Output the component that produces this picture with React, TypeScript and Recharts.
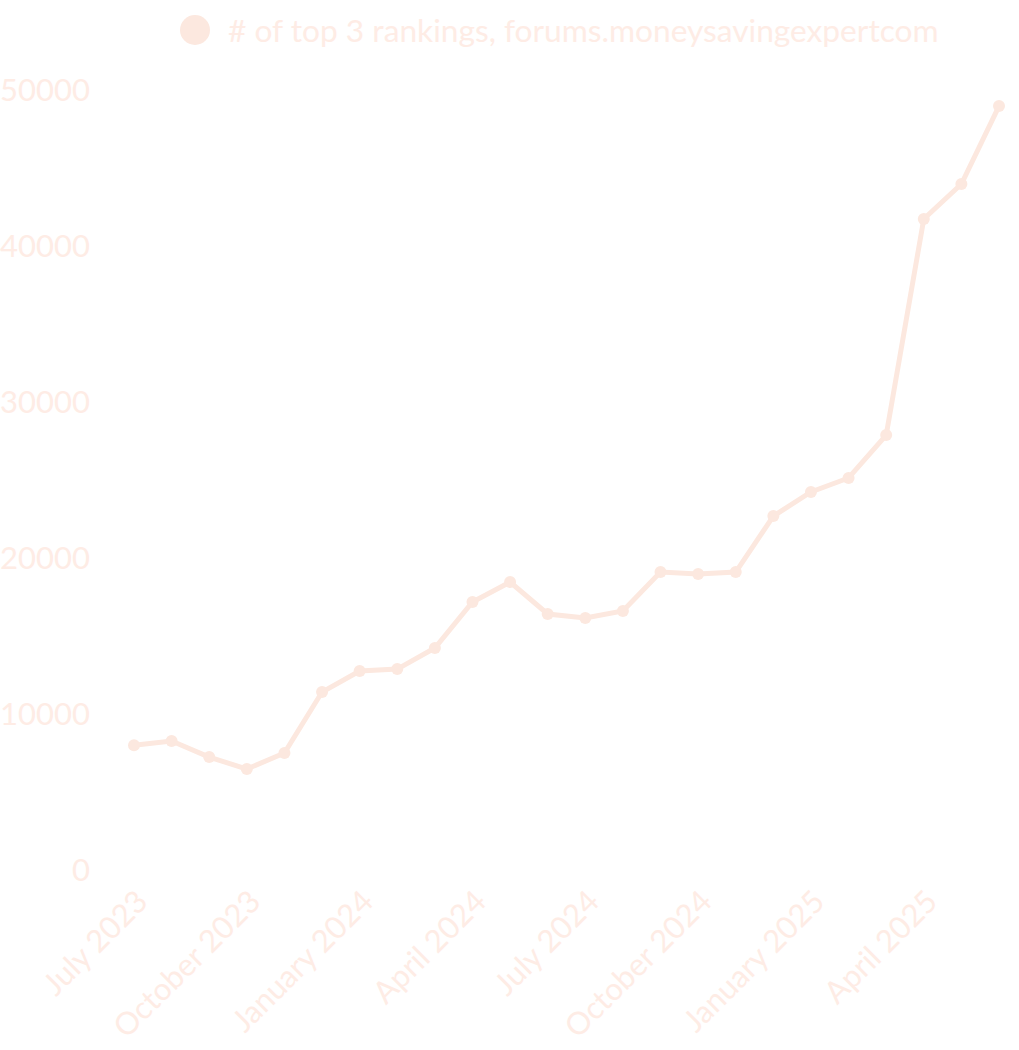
import React from "react";
import { LineChart, Line, XAxis, YAxis, Legend } from "recharts";

const months = [
  "July 2023", "August 2023", "September 2023", "October 2023", "November 2023", "December 2023",
  "January 2024", "February 2024", "March 2024", "April 2024", "May 2024", "June 2024",
  "July 2024", "August 2024", "September 2024", "October 2024", "November 2024", "December 2024",
  "January 2025", "February 2025", "March 2025", "April 2025", "May 2025", "June 2025",
];
const rankings = [
  8000, 8270, 7240, 6470, 7500, 11410,
  12760, 12880, 14230, 17180, 18460, 16410,
  16150, 16600, 19100, 18970, 19100, 22690,
  24230, 25130, 27880, 41730, 43970, 48970,
];
const yTicks = [0, 10000, 20000, 30000, 40000, 50000];
const seriesName = "# of top 3 rankings, forums.moneysavingexpertcom";

const data = months.map((m, i) => ({ month: m, value: rankings[i] }));

const LINE = "#fce8df";
const TEXT = "#feece5";
const FONT = "Lato, sans-serif";

const LegendContent = () => (
  <div style={{ display: "flex", alignItems: "center", fontFamily: FONT, fontSize: 31.7, fontWeight: 400, color: TEXT, whiteSpace: "nowrap" }}>
    <span style={{ display: "inline-block", width: 30, height: 30, borderRadius: 15, background: LINE, marginRight: 18 }} />
    <span>{seriesName}</span>
  </div>
);

export default function App() {
  return (
    <div style={{ position: "absolute", left: 0, top: 0, width: 1019, height: 1050, fontFamily: FONT }}>
      <LineChart width={1019} height={1050} data={data} margin={{ top: 52, right: 20, bottom: 0, left: 0 }}>
        <Legend
          verticalAlign="top"
          align="left"
          content={LegendContent}
          wrapperStyle={{ left: 180, top: 11, width: 800 }}
        />
        <XAxis
          dataKey="month"
          interval={2}
          angle={-45}
          textAnchor="end"
          height={180}
          axisLine={false}
          tickLine={false}
          tickMargin={12}
          tick={{ fill: TEXT, fontSize: 31, fontFamily: FONT, fontWeight: 400 }}
        />
        <YAxis
          domain={[0, 50000]}
          ticks={yTicks}
          width={134}
          axisLine={false}
          tickLine={false}
          tickMargin={38}
          tick={{ fill: TEXT, fontSize: 31, fontFamily: FONT, fontWeight: 400 }}
        />
        <Line
          type="linear"
          dataKey="value"
          name={seriesName}
          stroke={LINE}
          strokeWidth={5}
          dot={{ r: 6, fill: LINE, stroke: LINE, strokeWidth: 0 }}
          activeDot={false}
          isAnimationActive={false}
        />
      </LineChart>
    </div>
  );
}
